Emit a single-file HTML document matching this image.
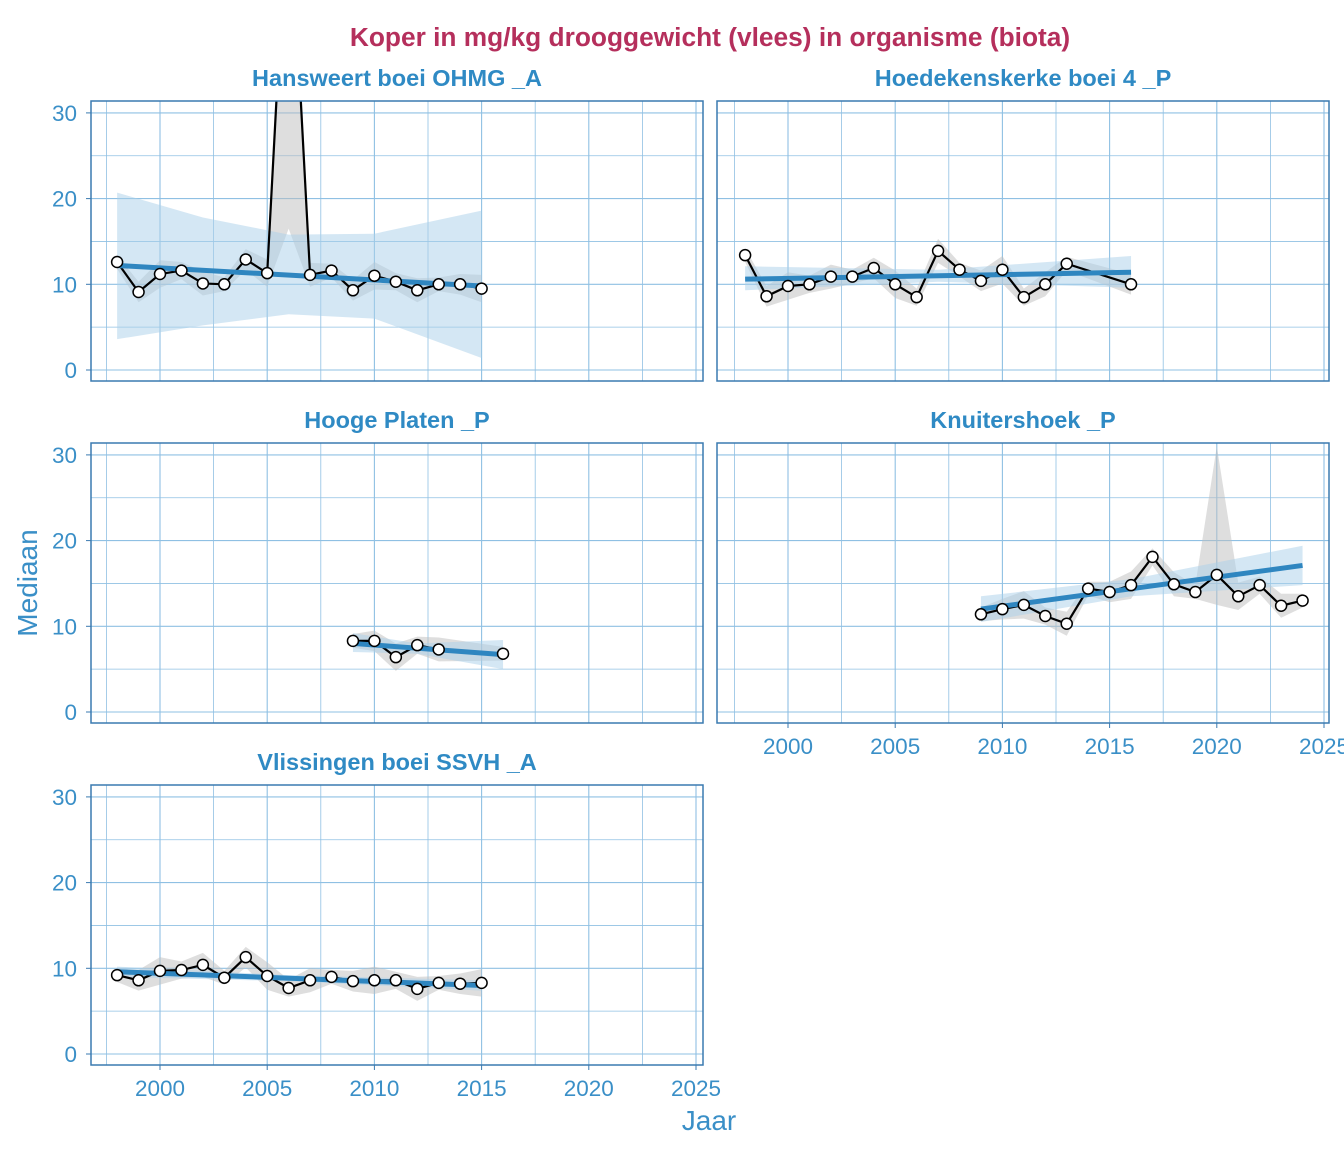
<!DOCTYPE html>
<html><head><meta charset="utf-8">
<style>
html,body{margin:0;padding:0;background:#fff;}
svg{display:block;font-family:"Liberation Sans",sans-serif;}
</style></head><body>
<svg id="s" width="1344" height="1152" viewBox="0 0 1344 1152" xmlns="http://www.w3.org/2000/svg">
<text x="710" y="46" text-anchor="middle" font-size="26.3" font-weight="bold" fill="#b52f5c">Koper in mg/kg drooggewicht (vlees) in organisme (biota)</text>
<text x="709" y="1130" text-anchor="middle" font-size="28" fill="#3a8fc7">Jaar</text>
<text transform="translate(37,583) rotate(-90)" text-anchor="middle" font-size="28" fill="#3a8fc7">Mediaan</text>
</svg>
<script>
const S=document.getElementById('s');const NS='http://www.w3.org/2000/svg';
function el(t,a,txt){const e=document.createElementNS(NS,t);for(const k in a)e.setAttribute(k,a[k]);if(txt!==undefined)e.textContent=txt;S.appendChild(e);return e;}
const panels=[
 {x0:91,y0:101,x20:160,title:"Hansweert boei OHMG _A",
  yrs:[1998,1999,2000,2001,2002,2003,2004,2005,2006,2007,2008,2009,2010,2011,2012,2013,2014,2015],
  v:[12.6,9.1,11.2,11.6,10.1,10,12.9,11.3,58,11.1,11.6,9.3,11,10.3,9.3,10,10,9.5],
  t:[12.2,9.8], ci:[[1998,3.6,20.7],[2002,5.2,17.8],[2006,6.5,15.8],[2010,6.0,15.9],[2015,1.4,18.6]], xl:false},
 {x0:717,y0:101,x20:788,title:"Hoedekenskerke boei 4 _P",
  yrs:[1998,1999,2000,2001,2002,2003,2004,2005,2006,2007,2008,2009,2010,2011,2012,2013,2016],
  v:[13.4,8.6,9.8,10,10.9,10.9,11.9,10,8.5,13.9,11.7,10.4,11.7,8.5,10,12.4,10],
  t:[10.6,11.4], ci:[[1998,9.3,12.1],[2007,10.3,11.7],[2016,9.6,13.3]], xl:false},
 {x0:91,y0:443,x20:160,title:"Hooge Platen _P",
  yrs:[2009,2010,2011,2012,2013,2016],v:[8.3,8.3,6.4,7.8,7.3,6.8],
  t:[8.0,6.7], ci:[[2009,7.0,9.2],[2012,6.8,8.0],[2016,5.0,8.4]], xl:false},
 {x0:717,y0:443,x20:788,title:"Knuitershoek _P",
  yrs:[2009,2010,2011,2012,2013,2014,2015,2016,2017,2018,2019,2020,2021,2022,2023,2024],
  v:[11.4,12,12.5,11.2,10.3,14.4,14,14.8,18.1,14.9,14,16,13.5,14.8,12.4,13],
  t:[12.0,17.1], ci:[[2009,10.5,13.5],[2016,13.5,15.5],[2024,14.8,19.4]], xl:true},
 {x0:91,y0:785,x20:160,title:"Vlissingen boei SSVH _A",
  yrs:[1998,1999,2000,2001,2002,2003,2004,2005,2006,2007,2008,2009,2010,2011,2012,2013,2014,2015],
  v:[9.2,8.6,9.7,9.8,10.4,8.9,11.3,9.1,7.7,8.6,9,8.5,8.6,8.6,7.6,8.3,8.2,8.3],
  t:[9.6,8.0], ci:[[1998,9.0,10.2],[2006,8.5,9.2],[2015,7.4,8.6]], xl:true}
];
const W=612,H=280,YS=85.7/10,XS=21.44;
panels.forEach(p=>{
 const X=y=>p.x20+(y-2000)*XS, Y=v=>p.y0+269-v*YS;
 const cid='c'+p.x0+p.y0;
 const cp=el('clipPath',{id:cid});const r=document.createElementNS(NS,'rect');
 r.setAttribute('x',p.x0);r.setAttribute('y',p.y0);r.setAttribute('width',W);r.setAttribute('height',H);cp.appendChild(r);
 el('text',{x:p.x0+W/2,y:p.y0-15,'text-anchor':'middle','font-size':23.5,'font-weight':'bold',fill:'#2f8ac4'},p.title);
 for(let y=1997.5;y<=2025;y+=2.5){const x=X(y);if(x>p.x0&&x<p.x0+W)el('line',{x1:x,x2:x,y1:p.y0,y2:p.y0+H,stroke:'#8fc0e3','stroke-width':(y%5==0)?1.1:0.8});}
 for(let v=0;v<=30;v+=5){el('line',{x1:p.x0,x2:p.x0+W,y1:Y(v),y2:Y(v),stroke:'#8fc0e3','stroke-width':(v%10==0)?1.1:0.8});}
 if(p.x0<100){for(let v=0;v<=30;v+=10){el('text',{x:p.x0-14,y:Y(v)+8,'text-anchor':'end','font-size':22.5,fill:'#3a8fc7'},v);el('line',{x1:p.x0-5,x2:p.x0,y1:Y(v),y2:Y(v),stroke:'#3a7ab0'});}}
 const g=el('g',{'clip-path':'url(#'+cid+')'});
 function add(t,a){const e=document.createElementNS(NS,t);for(const k in a)e.setAttribute(k,a[k]);g.appendChild(e);return e;}
 let up=[],lo=[];
 p.yrs.forEach((y,i)=>{let v=p.v[i];let d=0.8+((i*7)%5)*0.2;let hi=v+d,l=v-d;
  if(v>40){hi=v+5;l=16.5;}
  if(p.title[0]=='K'&&y==2020){hi=31;l=12.5;}
  up.push(X(y)+','+Y(hi));lo.unshift(X(y)+','+Y(l));});
 add('polygon',{points:up.concat(lo).join(' '),fill:'#bdbdbd','fill-opacity':0.5});
 const c=p.ci;let pts=[];
 c.forEach(q=>pts.push(X(q[0])+','+Y(q[2])));
 c.slice().reverse().forEach(q=>pts.push(X(q[0])+','+Y(q[1])));
 add('polygon',{points:pts.join(' '),fill:'#a9cfea','fill-opacity':0.5});
 add('polyline',{points:p.yrs.map((y,i)=>X(y)+','+Y(p.v[i])).join(' '),fill:'none',stroke:'#000','stroke-width':2.2});
 const a=p.yrs[0],b=p.yrs[p.yrs.length-1];
 add('line',{x1:X(a),y1:Y(p.t[0]),x2:X(b),y2:Y(p.t[1]),stroke:'#2f86c0','stroke-width':5});
 p.yrs.forEach((y,i)=>add('circle',{cx:X(y),cy:Y(p.v[i]),r:5.5,fill:'#fff',stroke:'#000','stroke-width':1.5}));
 el('rect',{x:p.x0,y:p.y0,width:W,height:H,fill:'none',stroke:'#3a7ab0','stroke-width':1.5});
 if(p.xl){for(let y=2000;y<=2025;y+=5){const x=X(y);el('line',{x1:x,x2:x,y1:p.y0+H,y2:p.y0+H+5,stroke:'#3a7ab0'});el('text',{x:x,y:p.y0+H+31,'text-anchor':'middle','font-size':22.5,fill:'#3a8fc7'},y);}}
});
</script>
</body></html>
